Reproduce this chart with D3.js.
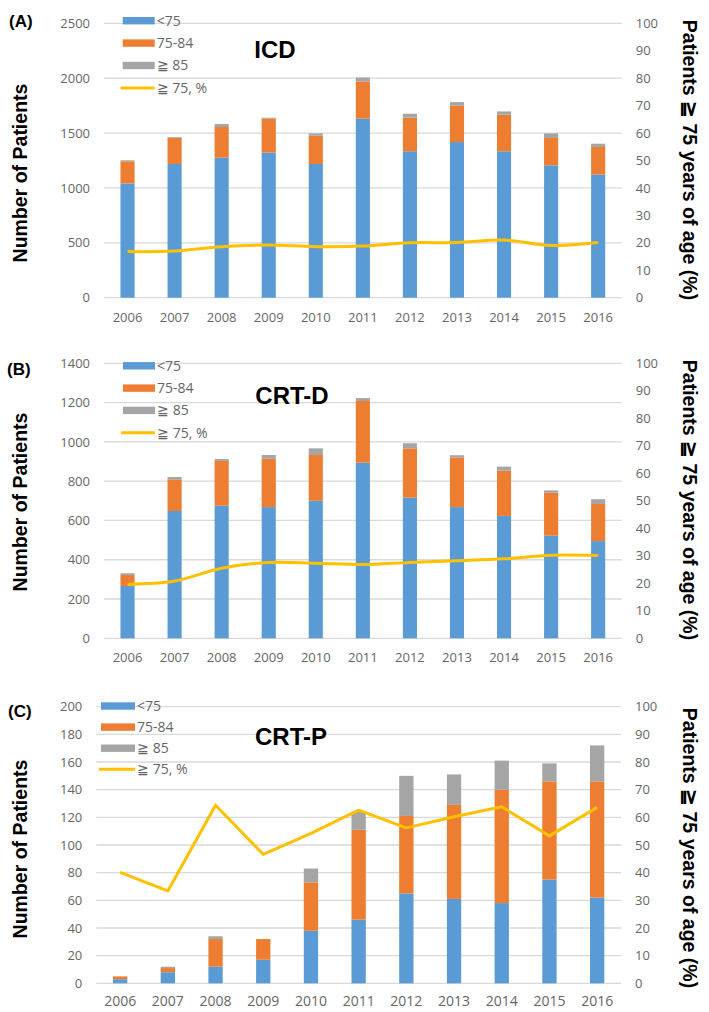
<!DOCTYPE html>
<html><head><meta charset="utf-8">
<script src="https://cdn.jsdelivr.net/npm/d3@7"></script>
<style>
html,body{margin:0;padding:0;background:#fff;}
svg{display:block;}
</style>
</head><body>
<svg id="chart" width="709" height="1012"></svg>
<script>
const years = ["2006","2007","2008","2009","2010","2011","2012","2013","2014","2015","2016"];
const seriesNames = ["<75","75-84","≧ 85"];
const lineName = "≧ 75, %";
const rightTicks = [0,10,20,30,40,50,60,70,80,90,100];

// Panel A: ICD
const icdUnder75 = [1040,1218,1276,1322,1218,1631,1334,1418,1334,1206,1122];
const icd75to84  = [203,240,279,309,258,339,306,331,333,249,251];
const icd85plus  = [9,6,27,9,21,36,36,33,30,42,30];
const icdPct     = [16.8,17.0,18.6,19.2,18.6,18.8,20.0,20.1,21.0,19.0,20.1];
const icdTicks   = [0,500,1000,1500,2000,2500];

// Panel B: CRT-D
const crtdUnder75 = [266,648,675,668,700,894,716,668,623,522,495];
const crtd75to84  = [56,161,228,246,233,314,251,253,230,219,189];
const crtd85plus  = [9,12,10,19,34,15,26,11,21,12,24];
const crtdPct     = [19.6,20.8,25.5,27.6,27.3,26.8,27.6,28.2,28.9,30.2,30.1];
const crtdTicks   = [0,200,400,600,800,1000,1200,1400];

// Panel C: CRT-P
const crtpUnder75 = [3,8,12,17,38,46,65,61,58,75,62];
const crtp75to84  = [2,3,20,15,35,65,56,68,82,71,84];
const crtp85plus  = [0,1,2,0,10,13,29,22,21,13,26];
const crtpPct     = [40.1,33.4,64.4,46.6,54.2,62.6,56.2,60.2,63.8,53.3,63.6];
const crtpTicks   = [0,20,40,60,80,100,120,140,160,180,200];

const colors = ["#5B9BD5","#ED7D31","#A5A5A5"];
const lineColor = "#FFC000";
const gridColor = "#D9D9D9";
const tickColor = "#666666";
const tickFont = "'Open Sans', sans-serif";
const boldFont = "'Liberation Sans', Arial, sans-serif";

const panels = [
  {label:"(A)", title:"ICD", s:[icdUnder75,icd75to84,icd85plus], pct:icdPct, ticks:icdTicks, max:2500,
   x0:104, x1:621.7, yTop:23.3, yBot:297.7, smooth:true,
   labelX:9, labelY:27, titleX:275, titleY:58, legX:122.7, legY:20.7, legStep:22.4, legW:32,
   leftTitleY:173, rightTitleY:160, yearY:322, yearSize:13},
  {label:"(B)", title:"CRT-D", s:[crtdUnder75,crtd75to84,crtd85plus], pct:crtdPct, ticks:crtdTicks, max:1400,
   x0:104, x1:621.7, yTop:363.3, yBot:638.3, smooth:true,
   labelX:7, labelY:375, titleX:292, titleY:404, legX:123, legY:365.8, legStep:22.3, legW:32,
   leftTitleY:502, rightTitleY:500, yearY:662, yearSize:13},
  {label:"(C)", title:"CRT-P", s:[crtpUnder75,crtp75to84,crtp85plus], pct:crtpPct, ticks:crtpTicks, max:200,
   x0:96.3, x1:621, yTop:706.7, yBot:983.3, smooth:false,
   labelX:8, labelY:717, titleX:291, titleY:745, legX:101, legY:706, legStep:21.1, legW:34,
   leftTitleY:849, rightTitleY:848, yearY:1006, yearSize:14}
];

const svg = d3.select("#chart");

panels.forEach(p => {
  const g = svg.append("g");
  const x = d3.scaleBand().domain(years).range([p.x0, p.x1]).paddingInner(0.7).paddingOuter(0.35);
  const y = d3.scaleLinear().domain([0, p.max]).range([p.yBot, p.yTop]);
  const y2 = d3.scaleLinear().domain([0, 100]).range([p.yBot, p.yTop]);

  // gridlines
  g.append("g").selectAll("line").data(p.ticks).join("line")
    .attr("x1", p.x0).attr("x2", p.x1)
    .attr("y1", d => y(d)).attr("y2", d => y(d))
    .attr("stroke", gridColor).attr("stroke-width", 1.3);

  // left axis
  const la = g.append("g").attr("transform", `translate(${p.x0},0)`)
    .call(d3.axisLeft(y).tickValues(p.ticks).tickFormat(d3.format("d")).tickSize(0).tickPadding(14));
  la.select(".domain").remove();
  la.selectAll("text").attr("fill", tickColor).style("font-family", tickFont).style("font-size", "13px");

  // right axis
  const ra = g.append("g").attr("transform", `translate(${p.x1},0)`)
    .call(d3.axisRight(y2).tickValues(rightTicks).tickFormat(d3.format("d")).tickSize(0).tickPadding(14));
  ra.select(".domain").remove();
  ra.selectAll("text").attr("fill", tickColor).style("font-family", tickFont).style("font-size", "13px");

  // year labels
  g.append("g").selectAll("text").data(years).join("text")
    .attr("x", d => x(d) + x.bandwidth()/2).attr("y", p.yearY)
    .attr("text-anchor", "middle").attr("fill", tickColor)
    .style("font-family", tickFont).style("font-size", p.yearSize + "px")
    .text(d => d);

  // stacked bars
  const rows = years.map((yr, i) => ({year: yr, a: p.s[0][i], b: p.s[1][i], c: p.s[2][i]}));
  const stack = d3.stack().keys(["a","b","c"])(rows);
  g.append("g").selectAll("g").data(stack).join("g")
    .attr("fill", (d, i) => colors[i])
    .selectAll("rect").data(d => d).join("rect")
    .attr("x", d => x(d.data.year)).attr("width", x.bandwidth())
    .attr("y", d => y(d[1])).attr("height", d => Math.max(0, y(d[0]) - y(d[1])));

  // line
  const line = d3.line()
    .x((d, i) => x(years[i]) + x.bandwidth()/2)
    .y(d => y2(d))
    .curve(p.smooth ? d3.curveCatmullRom.alpha(0.5) : d3.curveLinear);
  g.append("path").datum(p.pct).attr("d", line)
    .attr("fill", "none").attr("stroke", lineColor).attr("stroke-width", 3)
    .attr("stroke-linejoin", "round");

  // legend
  const leg = g.append("g");
  seriesNames.forEach((n, i) => {
    const cy = p.legY + i * p.legStep;
    leg.append("rect").attr("x", p.legX).attr("y", cy - 3.7).attr("width", p.legW).attr("height", 7.4).attr("fill", colors[i]);
    leg.append("text").attr("x", p.legX + p.legW + 2).attr("y", cy).attr("dy", "0.35em")
      .attr("fill", tickColor).style("font-family", tickFont).style("font-size", "14px").text(n);
  });
  const ly = p.legY + 3 * p.legStep;
  leg.append("line").attr("x1", p.legX - 2).attr("x2", p.legX + p.legW).attr("y1", ly).attr("y2", ly)
    .attr("stroke", lineColor).attr("stroke-width", 3);
  leg.append("text").attr("x", p.legX + p.legW + 2).attr("y", ly).attr("dy", "0.35em")
    .attr("fill", tickColor).style("font-family", tickFont).style("font-size", "14px").text(lineName);

  // panel label
  g.append("text").attr("x", p.labelX).attr("y", p.labelY)
    .style("font-family", boldFont).style("font-weight", "bold").style("font-size", "17px").text(p.label);

  // panel title
  g.append("text").attr("x", p.titleX).attr("y", p.titleY).attr("text-anchor", "middle")
    .style("font-family", boldFont).style("font-weight", "bold").style("font-size", "24px").text(p.title);

  // left axis title
  g.append("text").attr("transform", `translate(27,${p.leftTitleY}) rotate(-90)`)
    .attr("text-anchor", "middle")
    .style("font-family", boldFont).style("font-weight", "bold").style("font-size", "19.5px")
    .text("Number of Patients");

  // right axis title
  g.append("text").attr("transform", `translate(683,${p.rightTitleY}) rotate(90)`)
    .attr("text-anchor", "middle")
    .style("font-family", boldFont).style("font-weight", "bold").style("font-size", "19.5px")
    .text("Patients ≧ 75 years of age (%)");
});
</script>
</body></html>
